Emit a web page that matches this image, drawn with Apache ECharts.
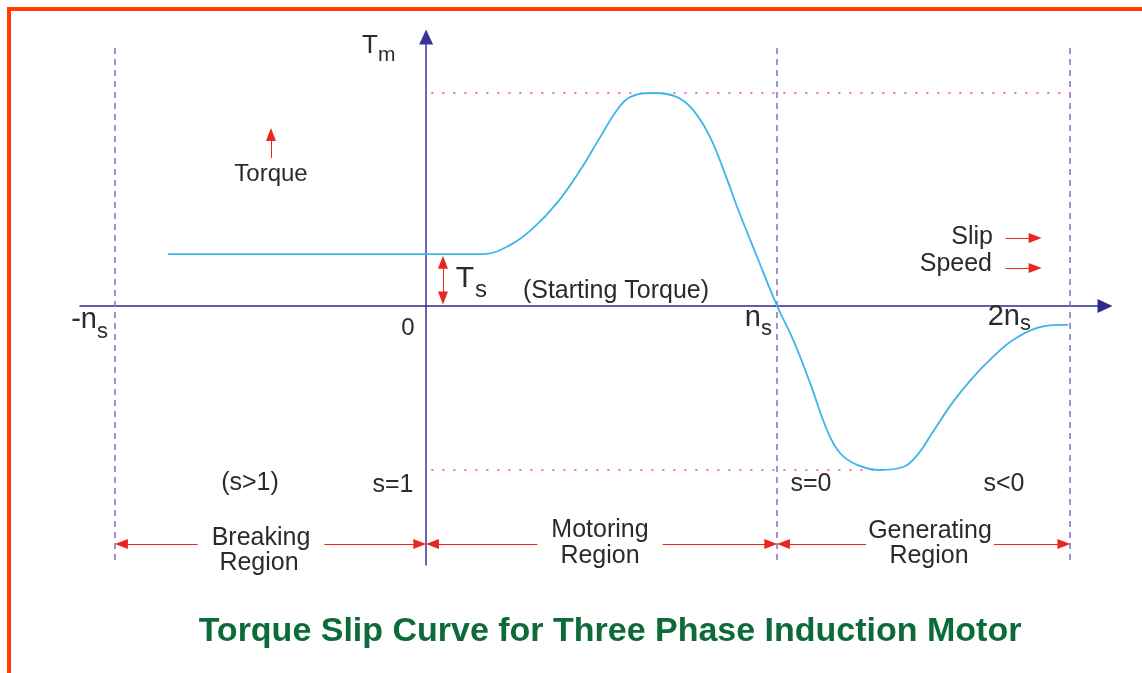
<!DOCTYPE html>
<html>
<head>
<meta charset="utf-8">
<script src="https://cdn.jsdelivr.net/npm/echarts/dist/echarts.min.js"></script>
<style>html,body{margin:0;padding:0;background:#fff}#main{width:1142px;height:673px}</style>
</head>
<body>
<div id="main"></div>
<script>
// speed axis in units of ns (drawn positions), torque in units of Tmax
var xBounds = [-0.886, 0, 1, 1.835];          // -ns, 0, ns, 2ns
var curveX = [-0.735, 0.0, 0.162, 0.239, 0.305, 0.373, 0.439, 0.496, 0.544, 0.581, 0.647, 0.715, 0.761, 0.809, 0.858, 0.886, 0.943, 1.0,
              1.046, 1.094, 1.142, 1.179, 1.228, 1.293, 1.359, 1.399, 1.444, 1.501, 1.558, 1.615, 1.672, 1.741, 1.806, 1.829];
var curveT = [0.244, 0.244, 0.244, 0.286, 0.366, 0.484, 0.638, 0.793, 0.920, 0.981, 1.0, 0.981, 0.920, 0.793, 0.592, 0.465, 0.230, 0,
              -0.160, -0.362, -0.582, -0.690, -0.746, -0.770, -0.756, -0.700, -0.590, -0.450, -0.335, -0.239, -0.160, -0.103, -0.089, -0.089];
var startT = 0.244, peakT = 1.0, minT = -0.77, minX = 1.293;
var slipLabels = ['(s>1)', 's=1', 's=0', 's<0'];
var regionTop = ['Breaking', 'Motoring', 'Generating'];
var titleText = 'Torque Slip Curve for Three Phase Induction Motor';

var FONT = '"Liberation Sans", Arial, sans-serif';
var RED = '#e8281e';
var myChart = echarts.init(document.getElementById('main'));

function seg(x1, y1, x2, y2, style) {
  return [{coord: [x1, y1], lineStyle: style}, {coord: [x2, y2]}];
}
function arrow(x1, y1, x2, y2, both) {
  return [{coord: [x1, y1], symbol: both ? 'triangle' : 'none'}, {coord: [x2, y2], symbol: 'triangle'}];
}
function txt(s, x, y, size, align, extra) {
  var st = {text: s, fill: '#2b2b2b', fontSize: size, fontFamily: FONT, align: align || 'center', verticalAlign: 'middle'};
  if (extra) for (var k in extra) st[k] = extra[k];
  return {type: 'text', x: x, y: y, z: 50, style: st};
}

var dashStyle = {color: '#7a71c6', type: [6, 5], width: 1.5};
var dotStyle = {color: '#ff66c4', type: [2, 9], width: 2};
var guides = [
  seg(xBounds[0], 1.211, xBounds[0], -1.202, dashStyle),
  seg(xBounds[2], 1.211, xBounds[2], -1.202, dashStyle),
  seg(xBounds[3], 1.211, xBounds[3], -1.202, dashStyle),
  seg(0.015, peakT, xBounds[3], peakT, dotStyle),
  seg(0.015, minT, minX, minT, dotStyle)
];

var yReg = -1.117, ins = 0.018;
var arrows = [];
for (var i = 0; i < 3; i++) arrows.push(arrow(xBounds[i] + ins, yReg, xBounds[i + 1] - ins, yReg, true));
arrows.push(arrow(0.048, 0.038, 0.048, startT - 0.038, true));
arrows.push(arrow(-0.442, 0.695, -0.442, 0.805));
arrows.push(arrow(1.650, 0.319, 1.735, 0.319));
arrows.push(arrow(1.650, 0.178, 1.735, 0.178));

var data = curveX.map(function (x, i) { return [x, curveT[i]]; });

var mask = {backgroundColor: '#fff', padding: [2, 14, 5, 14]};
var texts = [
  txt('T', 370, 45.5, 26), txt('m', 378, 55, 21, 'left'),
  txt('Torque', 271, 174, 24),
  txt('T', 465, 279, 30), txt('s', 475, 290, 24, 'left'),
  txt('(Starting Torque)', 616, 291, 25),
  txt('-n', 97, 320, 29, 'right'), txt('s', 97, 332, 22, 'left'),
  txt('0', 408, 328, 24),
  txt('n', 761, 318, 29, 'right'), txt('s', 761, 329, 22, 'left'),
  txt('2n', 1020, 317, 29, 'right'), txt('s', 1020, 324, 22, 'left'),
  txt('Slip', 993, 237, 25, 'right'),
  txt('Speed', 992, 264, 25, 'right'),
  txt(slipLabels[0], 250, 483, 25), txt(slipLabels[1], 393, 485, 25),
  txt(slipLabels[2], 811, 484, 25), txt(slipLabels[3], 1004, 484, 25),
  txt(regionTop[0], 261, 538, 25, 'center', mask), txt('Region', 259, 563, 25),
  txt(regionTop[1], 600, 530, 25, 'center', mask), txt('Region', 600, 556, 25),
  txt(regionTop[2], 930, 531, 25, 'center', {backgroundColor: '#fff', padding: [2, 2, 5, 2]}), txt('Region', 929, 556, 25),
  {type: 'text', x: 610, y: 632, z: 50, scaleX: 1.03,
   style: {text: titleText, fill: '#0d6b3a', fontSize: 33, fontWeight: 'bold', fontFamily: FONT, align: 'center', verticalAlign: 'middle'}},
  {type: 'rect', z: 60, shape: {x: 7, y: 7, width: 1135, height: 4}, style: {fill: '#ff3c00'}},
  {type: 'rect', z: 60, shape: {x: 7, y: 7, width: 4, height: 666}, style: {fill: '#ff3c00'}}
];

var option = {
  backgroundColor: '#fff',
  animation: false,
  grid: {left: 80, right: 37, top: 37, bottom: 108},
  xAxis: {
    type: 'value', min: -0.986, max: 1.934,
    axisLine: {onZero: true, symbol: ['none', 'triangle'], symbolSize: [14, 15], lineStyle: {color: '#2e2b8e', width: 1.5}},
    axisTick: {show: false}, axisLabel: {show: false}, splitLine: {show: false}
  },
  yAxis: {
    type: 'value', min: -1.216, max: 1.263,
    axisLine: {onZero: true, symbol: ['none', 'triangle'], symbolSize: [14, 15], lineStyle: {color: '#3a3496', width: 1.5}},
    axisTick: {show: false}, axisLabel: {show: false}, splitLine: {show: false}
  },
  graphic: texts,
  series: [
    {
      name: 'guides', type: 'line', data: [], silent: true,
      markLine: {silent: true, symbol: ['none', 'none'], label: {show: false}, animation: false, data: guides}
    },
    {
      name: 'arrows', type: 'line', data: [], silent: true,
      markLine: {silent: true, symbol: ['triangle', 'triangle'], symbolSize: [10, 13], label: {show: false}, animation: false,
        lineStyle: {color: RED, width: 1, type: 'solid'}, data: arrows}
    },
    {
      name: 'Torque', type: 'line', data: data, showSymbol: false, smooth: 0.4, z: 5,
      lineStyle: {color: '#3cb4ec', width: 1.8}
    }
  ]
};
myChart.setOption(option);
</script>
</body>
</html>
